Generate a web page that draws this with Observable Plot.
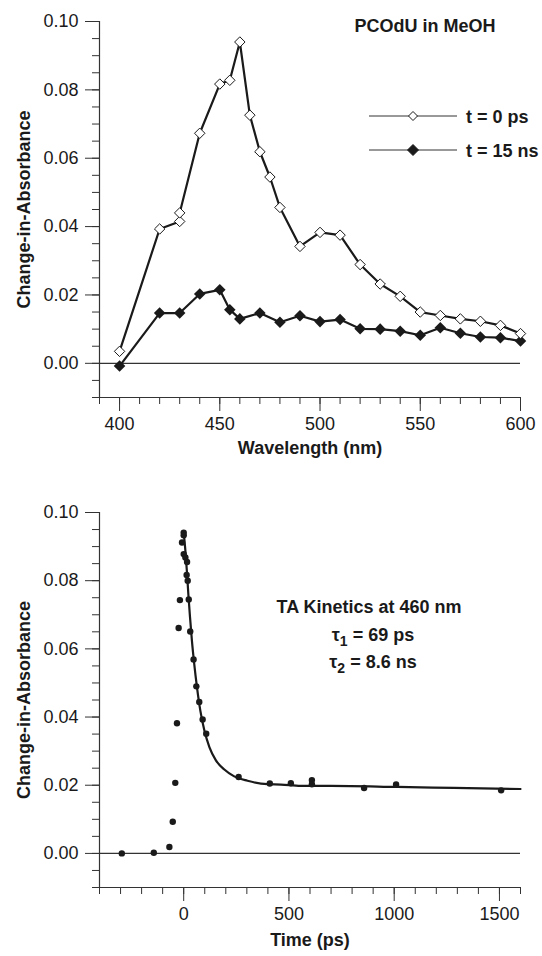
<!DOCTYPE html>
<html><head><meta charset="utf-8">
<script src="https://cdn.jsdelivr.net/npm/d3@7"></script>
<script src="https://cdn.jsdelivr.net/npm/@observablehq/plot@0.6"></script>
<style>
body{margin:0;background:#fff;}
#wrap{position:relative;width:542px;height:956px;font-family:"Liberation Sans",Arial,sans-serif;color:#1a1a1a;}
#wrap > svg{display:block}
#overlay{position:absolute;left:0;top:0;pointer-events:none}
g[aria-label="y-axis label"] text, g[aria-label="x-axis label"] text{font-weight:bold}
</style></head><body><div id="wrap"></div>
<script>
// ---- Top panel: transient absorption spectra (PCOdU in MeOH)
const wavelengthT0 = [400,420,430,430,440,450,455,460,465,470,475,480,490,500,510,520,530,540,550,560,570,580,590,600];
const absT0 = [0.0035,0.0393,0.0415,0.0440,0.0673,0.0817,0.0828,0.0940,0.0726,0.0619,0.0545,0.0456,0.0342,0.0383,0.0375,0.0289,0.0232,0.0196,0.0150,0.0140,0.0130,0.0123,0.0111,0.0087];
const wavelength15ns = [400,420,430,440,450,455,460,470,480,490,500,510,520,530,540,550,560,570,580,590,600];
const abs15ns = [-0.0008,0.0147,0.0147,0.0203,0.0215,0.0157,0.0130,0.0147,0.0120,0.0139,0.0122,0.0128,0.0101,0.0100,0.0094,0.0082,0.0104,0.0088,0.0077,0.0075,0.0065];
const seriesLabels = ["t = 0 ps", "t = 15 ns"];

// ---- Bottom panel: kinetics at 460 nm
const timePs = [-294,-142,-68,-52,-40,-32,-24,-18,-8,0,0,0,8,16,14,19,24,31,47,60,74,90,107,261,409,509,609,609,857,1009,1508];
const absKin = [0.0000,0.0002,0.0019,0.0093,0.0207,0.0382,0.0661,0.0743,0.0912,0.0941,0.0933,0.0878,0.0868,0.0855,0.0817,0.0800,0.0745,0.0651,0.0569,0.0490,0.0444,0.0393,0.0351,0.0224,0.0205,0.0206,0.0215,0.0203,0.0192,0.0202,0.0185];
const fitTime = [0,8,16,22,30,39,50,63,79,98,122,153,193,240,303,398,462,556,699,1015,1283,1600];
const fitAbs = [0.0941,0.0888,0.0820,0.0761,0.0693,0.0624,0.0556,0.0488,0.0419,0.0361,0.0312,0.0273,0.0246,0.0226,0.0213,0.0203,0.0202,0.0198,0.0198,0.0195,0.0192,0.0189];

// ---- Axis ticks
const yMajor = [0, 0.02, 0.04, 0.06, 0.08, 0.10];
const yMinor = d3.range(-0.01, 0.1001, 0.005);
const wlMajor = [400, 450, 500, 550, 600];
const wlMinor = d3.range(390, 601, 10);
const tMajor = [0, 500, 1000, 1500];
const tMinor = d3.range(-400, 1601, 100);

const ink = "#1a1a1a", axisInk = "#333";
const font = '"Liberation Sans", Arial, sans-serif';
const fmt2 = d3.format(".2f");
const fmtInt = d3.format("d");

function frameAxes(xDom, xMaj, xMin, xLabel, xLabelOffset, yLabelOffset) {
  return [
    Plot.axisY(yMinor, {tickSize: 7, text: null, label: null, stroke: axisInk}),
    Plot.axisY(yMajor, {tickSize: 14, tickPadding: 7, tickFormat: fmt2, stroke: axisInk, fill: ink,
      label: "Change-in-Absorbance", labelAnchor: "center", labelArrow: "none", labelOffset: yLabelOffset}),
    Plot.axisX(xMin, {tickSize: 7, text: null, label: null, stroke: axisInk}),
    Plot.axisX(xMaj, {tickSize: 14, tickPadding: 6, tickFormat: fmtInt, stroke: axisInk, fill: ink,
      label: xLabel, labelAnchor: "center", labelArrow: "none", labelOffset: xLabelOffset}),
    Plot.ruleX([xDom[0]], {stroke: axisInk, strokeWidth: 1.2}),
    Plot.ruleY([-0.01], {stroke: axisInk, strokeWidth: 1.2}),
    Plot.ruleY([0], {stroke: axisInk, strokeWidth: 1.2})
  ];
}

const spec0 = wavelengthT0.map((w, i) => ({w, a: absT0[i]}));
const spec15 = wavelength15ns.map((w, i) => ({w, a: abs15ns[i]}));

const topPlot = Plot.plot({
  width: 542, height: 462, marginLeft: 99, marginRight: 22, marginTop: 21, marginBottom: 65,
  style: {fontFamily: font, fontSize: "18px", color: ink, background: "white", overflow: "visible"},
  x: {domain: [390, 600]},
  y: {domain: [-0.01, 0.10]},
  marks: [
    ...frameAxes([390, 600], wlMajor, wlMinor, "Wavelength (nm)", 56, 82),
    Plot.line(spec15, {x: "w", y: "a", stroke: ink, strokeWidth: 2.2}),
    Plot.line(spec0, {x: "w", y: "a", stroke: ink, strokeWidth: 2.2}),
    Plot.dot(spec15, {x: "w", y: "a", symbol: "diamond2", r: 5.2, fill: ink, stroke: "none"}),
    Plot.dot(spec0, {x: "w", y: "a", symbol: "diamond2", r: 4.7, fill: "white", stroke: ink, strokeWidth: 1})
  ]
});

const kin = timePs.map((t, i) => ({t, a: absKin[i]}));
const fit = fitTime.map((t, i) => ({t, a: fitAbs[i]}));

const bottomPlot = Plot.plot({
  width: 542, height: 494, marginLeft: 99, marginRight: 22, marginTop: 50, marginBottom: 69,
  style: {fontFamily: font, fontSize: "18px", color: ink, background: "white", overflow: "visible"},
  x: {domain: [-400, 1600]},
  y: {domain: [-0.01, 0.10]},
  marks: [
    ...frameAxes([-400, 1600], tMajor, tMinor, "Time (ps)", 58, 82),
    Plot.line(fit, {x: "t", y: "a", stroke: ink, strokeWidth: 2.2, curve: "monotone-x"}),
    Plot.dot(kin, {x: "t", y: "a", r: 3.2, fill: ink, stroke: "none"})
  ]
});

const wrap = document.getElementById("wrap");
wrap.append(topPlot, bottomPlot);

// ---- Overlay: titles, legend, fit annotation
const ov = d3.select(wrap).append("svg").attr("id", "overlay")
  .attr("width", 542).attr("height", 956)
  .attr("font-family", font).attr("font-size", 18).attr("font-weight", "bold").attr("fill", ink);

ov.append("text").attr("x", 425).attr("y", 31.5).attr("text-anchor", "middle").text("PCOdU in MeOH");

const legendRows = [
  {y: 116, fill: "white", r: 4.5, label: seriesLabels[0]},
  {y: 150, fill: ink, r: 5.5, label: seriesLabels[1]}
];
for (const row of legendRows) {
  ov.append("line").attr("x1", 369).attr("x2", 457).attr("y1", row.y).attr("y2", row.y)
    .attr("stroke", axisInk).attr("stroke-width", 1);
  const c = 413, r = row.r;
  ov.append("path").attr("d", `M${c},${row.y - r}L${c + r},${row.y}L${c},${row.y + r}L${c - r},${row.y}Z`)
    .attr("fill", row.fill).attr("stroke", ink).attr("stroke-width", 1);
  ov.append("text").attr("x", 466).attr("y", row.y + 6.5).text(row.label);
}

ov.append("text").attr("x", 369).attr("y", 613).attr("text-anchor", "middle").text("TA Kinetics at 460 nm");
const tau = [{y: 641, sub: "1", rest: " = 69 ps"}, {y: 668, sub: "2", rest: " = 8.6 ns"}];
for (const t of tau) {
  const tx = ov.append("text").attr("x", 373).attr("y", t.y).attr("text-anchor", "middle");
  tx.append("tspan").text("τ");
  tx.append("tspan").attr("font-size", 14).attr("dy", 5).text(t.sub);
  tx.append("tspan").attr("dy", -5).text(t.rest);
}
</script></body></html>
